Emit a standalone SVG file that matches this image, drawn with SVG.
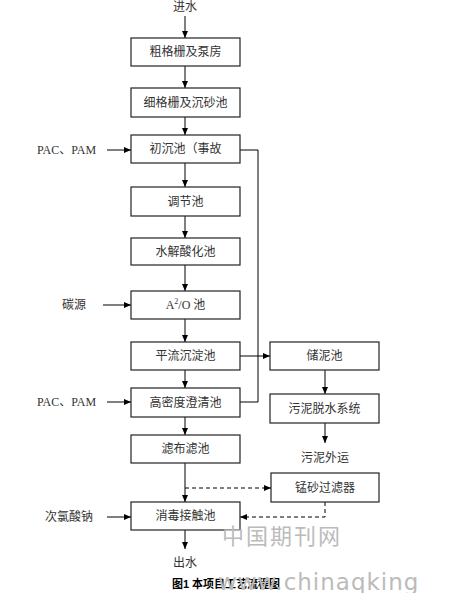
<svg xmlns="http://www.w3.org/2000/svg" width="450" height="593" viewBox="0 0 450 593">
<defs>
<marker id="ah" markerWidth="8" markerHeight="8" refX="7" refY="4" orient="auto" markerUnits="userSpaceOnUse">
<path d="M0,1 L7,4 L0,7 Z" fill="#000"/>
</marker>
<style>
.box{fill:#fff;stroke:#222;stroke-width:1.2}
.t{font-family:"Liberation Serif","Noto Sans CJK SC",serif;font-size:12px;fill:#333;text-anchor:middle;dominant-baseline:central}
.l{font-family:"Liberation Serif","Noto Sans CJK SC",serif;font-size:12px;fill:#333;dominant-baseline:central}
.c{stroke:#000;stroke-width:1;fill:none}
.d{stroke:#000;stroke-width:1;fill:none;stroke-dasharray:4,3}
.wm{font-family:"DejaVu Sans","Noto Sans CJK SC",sans-serif;fill:#bbb}
</style>
</defs>
<rect width="450" height="593" fill="#fff"/>
<g id="connectors">
<line class="c" x1="185" y1="16" x2="185" y2="38" marker-end="url(#ah)"/>
<line class="c" x1="185" y1="66" x2="185" y2="88" marker-end="url(#ah)"/>
<line class="c" x1="185" y1="117" x2="185" y2="135" marker-end="url(#ah)"/>
<line class="c" x1="185" y1="163" x2="185" y2="187" marker-end="url(#ah)"/>
<line class="c" x1="185" y1="216" x2="185" y2="238" marker-end="url(#ah)"/>
<line class="c" x1="185" y1="265" x2="185" y2="291" marker-end="url(#ah)"/>
<line class="c" x1="185" y1="319" x2="185" y2="342" marker-end="url(#ah)"/>
<line class="c" x1="185" y1="370" x2="185" y2="388" marker-end="url(#ah)"/>
<line class="c" x1="185" y1="417" x2="185" y2="435" marker-end="url(#ah)"/>
<line class="c" x1="185" y1="463" x2="185" y2="502" marker-end="url(#ah)"/>
<line class="c" x1="185" y1="530" x2="185" y2="549" marker-end="url(#ah)"/>
<line class="c" x1="107" y1="150" x2="131" y2="150" marker-end="url(#ah)"/>
<line class="c" x1="103" y1="305" x2="131" y2="305" marker-end="url(#ah)"/>
<line class="c" x1="107" y1="402" x2="131" y2="402" marker-end="url(#ah)"/>
<line class="c" x1="107" y1="517" x2="131" y2="517" marker-end="url(#ah)"/>
<polyline class="c" points="240,150 258,150 258,402 240,402"/>
<line class="c" x1="240" y1="356" x2="270" y2="356" marker-end="url(#ah)"/>
<line class="c" x1="325" y1="370" x2="325" y2="394" marker-end="url(#ah)"/>
<line class="c" x1="325" y1="423" x2="325" y2="443" marker-end="url(#ah)"/>
<line class="d" x1="185" y1="488" x2="271" y2="488" marker-end="url(#ah)"/>
<polyline class="d" points="325,502 325,517 240,517" marker-end="url(#ah)"/>
</g>
<g id="n_in"><text class="t" x="185" y="7">进水</text></g>
<g id="n1"><rect class="box" x="131" y="38" width="109" height="28"/><text class="t" x="185.5" y="52">粗格栅及泵房</text></g>
<g id="n2"><rect class="box" x="131" y="88" width="109" height="29"/><text class="t" x="185.5" y="102.5">细格栅及沉砂池</text></g>
<g id="n3"><rect class="box" x="131" y="135" width="109" height="28"/><text class="t" x="185.5" y="149">初沉池（事故</text></g>
<g id="n4"><rect class="box" x="131" y="187" width="109" height="29"/><text class="t" x="185.5" y="201.5">调节池</text></g>
<g id="n5"><rect class="box" x="131" y="238" width="109" height="27"/><text class="t" x="185.5" y="251.5">水解酸化池</text></g>
<g id="n6"><rect class="box" x="131" y="291" width="109" height="28"/><text class="t" x="185.5" y="305">A<tspan font-size="8" dy="-4">2</tspan><tspan dy="4">/O 池</tspan></text></g>
<g id="n7"><rect class="box" x="131" y="342" width="109" height="28"/><text class="t" x="185.5" y="356">平流沉淀池</text></g>
<g id="n8"><rect class="box" x="131" y="388" width="109" height="29"/><text class="t" x="185.5" y="402.5">高密度澄清池</text></g>
<g id="n9"><rect class="box" x="131" y="435" width="109" height="28"/><text class="t" x="185.5" y="449">滤布滤池</text></g>
<g id="n10"><rect class="box" x="131" y="502" width="109" height="28"/><text class="t" x="185.5" y="516">消毒接触池</text></g>
<g id="n_out"><text class="t" x="185" y="563">出水</text></g>
<g id="s1"><rect class="box" x="270" y="342" width="109" height="28"/><text class="t" x="324.5" y="356">储泥池</text></g>
<g id="s2"><rect class="box" x="270" y="394" width="109" height="29"/><text class="t" x="324.5" y="408.5">污泥脱水系统</text></g>
<g id="s3"><text class="t" x="325" y="458">污泥外运</text></g>
<g id="f1"><rect class="box" x="271" y="473" width="108" height="29"/><text class="t" x="325" y="487.5">锰砂过滤器</text></g>
<g id="i1"><text class="l" x="37" y="150">PAC、PAM</text></g>
<g id="i2"><text class="l" x="62" y="305">碳源</text></g>
<g id="i3"><text class="l" x="37" y="402">PAC、PAM</text></g>
<g id="i4"><text class="l" x="45" y="517">次氯酸钠</text></g>
<g id="caption"><text x="226" y="584" font-family="Liberation Sans,'Noto Sans CJK SC',sans-serif" font-size="11" font-weight="bold" fill="#000" text-anchor="middle" dominant-baseline="central">图1 本项目工艺流程图</text></g>
<g id="watermark">
<text class="wm" x="222" y="544" font-size="22" letter-spacing="2">中国期刊网</text>
<text class="wm" x="218" y="590" font-size="23" letter-spacing="1">www.chinaqking</text>
</g>
</svg>
